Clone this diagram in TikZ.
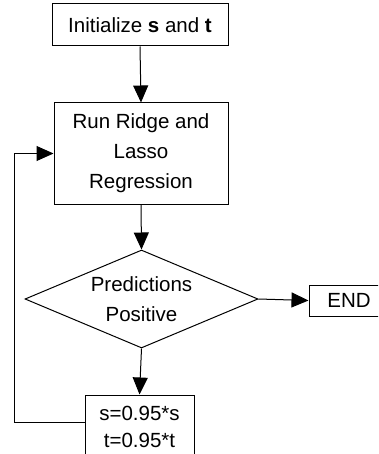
\documentclass[tikz,border=0pt]{standalone}
\usepackage{fontspec}
\setmainfont{Liberation Sans}
\usetikzlibrary{shapes.geometric,arrows.meta}
\begin{document}
\begin{tikzpicture}[x=1pt,y=-1pt,
  every node/.style={font=\fontsize{20.5}{30}\selectfont, inner sep=0pt, align=center},
  box/.style={draw, line width=1pt, rectangle},
  dia/.style={draw, line width=1pt, diamond, aspect=2.38, minimum width=233pt, minimum height=98pt},
  arr/.style={line width=1pt, -{Triangle[length=17pt,width=15pt]}}]
\useasboundingbox (0,0) rectangle (378,454);
\clip (0,0) rectangle (378,454);
\node[box, minimum width=176pt, minimum height=42pt] (init) at (140,25) {Initialize \textbf{s} and \textbf{t}};
\node[box, minimum width=174pt, minimum height=101pt] (run) at (141,153.5) {Run Ridge and\\Lasso\\Regression};
\node[dia] (dec) at (141.5,299) {Predictions\\Positive};
\node[box, minimum width=80pt, minimum height=31pt] (end) at (349,300.5) {END};
\node[box, minimum width=109pt, minimum height=63pt, font=\fontsize{20.5}{27}\selectfont] (upd) at (139.5,426.5) {s=0.95*s\\t=0.95*t};
\coordinate (lp) at (14,422);
\draw[arr] (init.south) -- (run.north);
\draw[arr] (run.south) -- (dec.north);
\draw[arr] (dec.east) -- (end.west);
\draw[arr] (dec.south) -- (upd.north);
\draw[arr] (upd.west |- lp) -- (lp) |- (run.west);
\end{tikzpicture}
\end{document}
